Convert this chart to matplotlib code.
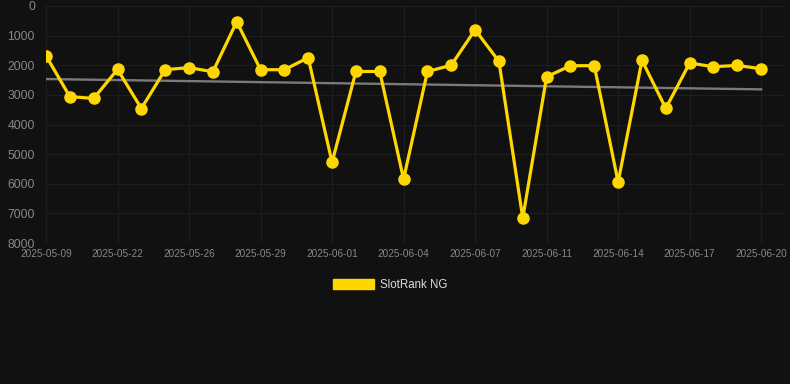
import matplotlib
matplotlib.use("Agg")
import matplotlib.pyplot as plt
import numpy as np
from matplotlib.patches import Patch

dates = ["2025-05-09", "2025-05-15", "2025-05-19", "2025-05-22", "2025-05-23", "2025-05-25",
         "2025-05-26", "2025-05-27", "2025-05-28", "2025-05-29", "2025-05-30", "2025-05-31",
         "2025-06-01", "2025-06-02", "2025-06-03", "2025-06-04", "2025-06-05", "2025-06-06",
         "2025-06-07", "2025-06-08", "2025-06-10", "2025-06-11", "2025-06-12", "2025-06-13",
         "2025-06-14", "2025-06-15", "2025-06-16", "2025-06-17", "2025-06-18", "2025-06-19",
         "2025-06-20"]
ranks = [1680, 3060, 3120, 2140, 3460, 2150, 2080, 2220, 530, 2150, 2150, 1745,
         5280, 2210, 2210, 5845, 2210, 2000, 800, 1870, 7160, 2390, 2015, 2015,
         5945, 1835, 3455, 1925, 2050, 2005, 2120]
series_name = "SlotRank NG"
yticks = [0, 1000, 2000, 3000, 4000, 5000, 6000, 7000, 8000]

bg = "#111111"
plt.rcParams['font.family'] = ['Liberation Sans', 'DejaVu Sans']
fig = plt.figure(figsize=(7.9, 3.84), dpi=100, facecolor=bg)
ax = fig.add_axes([46/790, 1-243/384, (785-46)/790, (243-6)/384])
ax.set_facecolor(bg)

x = np.arange(len(dates))
coef = np.polyfit(x, ranks, 1)
trend = np.polyval(coef, x)
ax.plot(x, trend, color="#7a7a7a", lw=1.7, zorder=2)
ax.plot(x, ranks, color="#FFD700", lw=2.3, marker="o", markersize=8, zorder=3,
        label=series_name)

ax.set_xlim(0, 31.0)
ax.set_ylim(8000, 0)
ax.set_yticks(yticks)
ax.set_yticklabels([str(v) for v in yticks], fontsize=8.8, color="#888888")
ax.set_xticks(x[::3])
ax.set_xticklabels([dates[i] for i in range(0, len(dates), 3)], fontsize=7.2, color="#888888")
ax.tick_params(length=0, pad=4)
ax.tick_params(axis='y', pad=8)
ax.grid(True, color="#1e1e1e", lw=0.8)
for s in ax.spines.values():
    s.set_visible(False)

handle = Patch(facecolor="#FFD700", edgecolor="#FFD700")
leg = fig.legend([handle], [series_name], loc="center", bbox_to_anchor=(390/790, 1-285/384),
                 frameon=False, fontsize=8.3, handlelength=3.6, handleheight=1.0,
                 handletextpad=0.5)
for t in leg.get_texts():
    t.set_color("#dddddd")

fig.savefig("out.png", dpi=100, facecolor=bg)
